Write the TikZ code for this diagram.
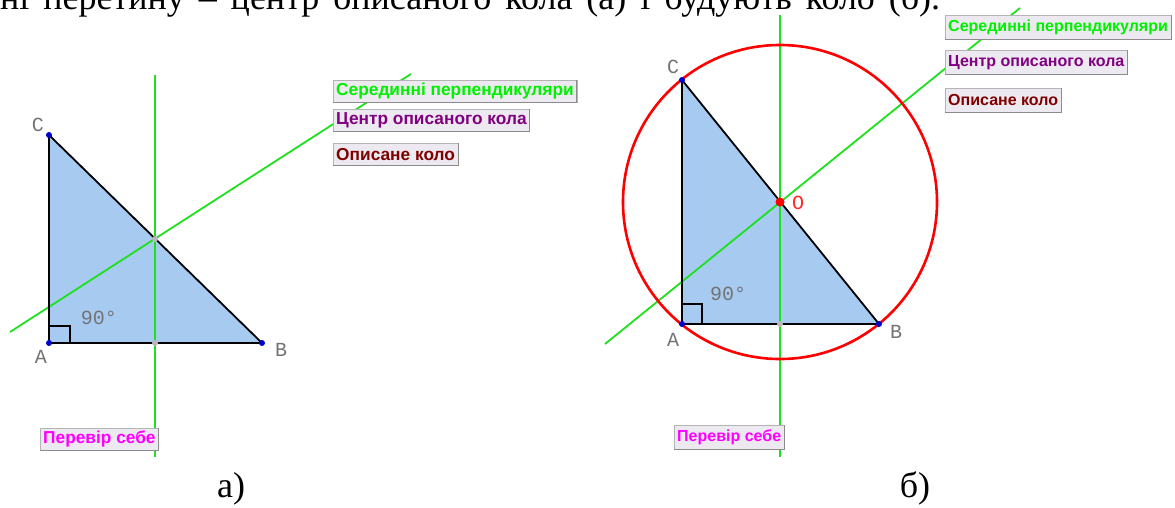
\documentclass[tikz,border=0pt]{standalone}
\usepackage{fontspec}
\setmainfont{Liberation Serif}
\setsansfont{Liberation Sans}
\setmonofont{Liberation Mono}
\usetikzlibrary{positioning}
\definecolor{trifill}{HTML}{A6CAF0}
\definecolor{perpgreen}{HTML}{1EE01E}
\definecolor{btnbg}{HTML}{ECEAF0}
\definecolor{btnline}{HTML}{B4B4B4}
\definecolor{btnshade}{HTML}{8C8C8C}
\definecolor{ptblue}{HTML}{0000CC}
\definecolor{midgray}{HTML}{B8B8B8}
\definecolor{txtgreen}{HTML}{00F000}
\definecolor{txtpurple}{HTML}{800080}
\definecolor{txtred}{HTML}{800000}
\definecolor{txtpink}{HTML}{FF00FF}
\tikzset{
  tri/.style    = {fill=trifill},
  edge/.style   = {draw=black, line width=1.8pt, line join=round},
  perp/.style   = {draw=perpgreen, line width=1.8pt},
  circum/.style = {draw=red, line width=2.6pt},
  vtx/.style    = {circle, fill=ptblue, inner sep=0pt, minimum size=6pt},
  mid/.style    = {circle, fill=midgray, inner sep=0pt, minimum size=6pt},
  ctr/.style    = {circle, fill=red, inner sep=0pt, minimum size=9pt},
  ptlbl/.style  = {font=\fontsize{20}{20}\ttfamily, text=black!55, inner sep=0pt},
  btn/.style    = {draw=btnline, fill=btnbg, anchor=north west, inner xsep=3pt,
                   inner ysep=0pt, minimum height=22pt,
                   font=\fontsize{17.3}{17.3}\sffamily\bfseries},
  btnr/.style   = {btn, minimum height=24pt, font=\fontsize{16}{16}\sffamily\bfseries},
  caption/.style= {font=\fontsize{36}{36}\selectfont, inner sep=0pt},
}

\begin{document}
\begin{tikzpicture}[x=1pt, y=-1pt]
  \useasboundingbox (0,0) rectangle (1175,507);
  \clip (0,0) rectangle (1175,507);
  % text line above, cut by the page edge
  \node[caption, anchor=base west] (intro) at (0,9)
    {\makebox[940pt][s]{ні перетину – центр описаного кола (а) і будують коло (б).}};

  % --- a) ---
  \coordinate (A1) at (49,343);
  \coordinate (B1) at (262,343);
  \coordinate (C1) at (49,135);
  \coordinate (M1) at (155,239);
  \coordinate (N1) at (155,343);
  \coordinate (v1t) at (155,75);
  \coordinate (v1b) at (155,457);
  \coordinate (s1a) at (10,332);
  \coordinate (s1b) at (411,74);
  \fill[tri] (A1) -- (B1) -- (C1) -- cycle;
  \draw[perp] (v1t) -- (v1b);
  \draw[perp] (s1a) -- (s1b);
  \draw[edge] (A1) -- (B1) -- (C1) -- cycle;
  \draw[line width=1.5pt] (49,326) -- (70,326) -- (70,343);
  \node[vtx] (a1) at (A1) {};
  \node[vtx] (b1) at (B1) {};
  \node[vtx] (c1) at (C1) {};
  \node[mid] (m1) at (M1) {};
  \node[mid] (n1) at (N1) {};
  \node[ptlbl] (lc1) at (38,125) {C};
  \node[ptlbl] (la1) at (41,357) {A};
  \node[ptlbl] (lb1) at (281,350) {B};
  \node[ptlbl] (ang1) at (99,318) {90°};

  % --- b) ---
  \coordinate (A2) at (682,324);
  \coordinate (B2) at (879,324);
  \coordinate (C2) at (682,80);
  \coordinate (O) at (780,202);
  \coordinate (N2) at (780,324);
  \coordinate (v2t) at (780,15);
  \coordinate (v2b) at (780,457);
  \coordinate (s2a) at (605,344);
  \coordinate (s2b) at (1020,8);
  \fill[tri] (A2) -- (B2) -- (C2) -- cycle;
  \draw[perp] (v2t) -- (v2b);
  \draw[perp] (s2a) -- (s2b);
  \draw[edge] (A2) -- (B2) -- (C2) -- cycle;
  \draw[line width=1.5pt] (682,304) -- (702,304) -- (702,324);
  \draw[circum] (O) circle[radius=157];
  \node[vtx] (a2) at (A2) {};
  \node[vtx] (b2) at (B2) {};
  \node[vtx] (c2) at (C2) {};
  \node[mid] (n2) at (N2) {};
  \node[ctr] (o) at (O) {};
  \node[ptlbl] (lc2) at (673,67) {C};
  \node[ptlbl] (la2) at (673,340) {A};
  \node[ptlbl] (lb2) at (896,332) {B};
  \node[ptlbl] (ang2) at (728,294) {90°};
  \node[ptlbl, text=red!85] (lo) at (798,203) {O};

  % buttons
  \node[btn, text=txtgreen]  (perp1) at (333,80)  {Серединні перпендикуляри};
  \node[btn, text=txtpurple] (cent1) at (333,109) {Центр описаного кола};
  \node[btn, text=txtred]    (circ1) at (333,143) {Описане коло};
  \node[btn, text=txtpink]   (test1) at (40,428)  {Перевір себе};
  \node[btnr, text=txtgreen]  (perp2) at (945,15)  {Серединні перпендикуляри};
  \node[btnr, text=txtpurple] (cent2) at (945,50)  {Центр описаного кола};
  \node[btnr, text=txtred]    (circ2) at (945,88)  {Описане коло};
  \node[btnr, text=txtpink]   (test2) at (674,425) {Перевір себе};
  \foreach \b in {perp1,cent1,circ1,test1,perp2,cent2,circ2,test2}
    \draw[btnshade, line width=1pt] (\b.south west) -- (\b.south east) -- (\b.north east);

  % captions
  \node[caption, anchor=base] (capa) at (231,497) {а)};
  \node[caption, anchor=base] (capb) at (915,497) {б)};
\end{tikzpicture}
\end{document}
